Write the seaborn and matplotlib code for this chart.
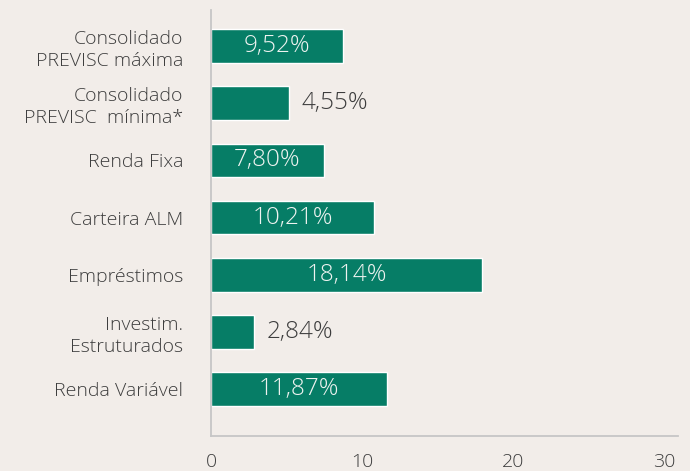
import matplotlib
matplotlib.use("Agg")
import matplotlib.pyplot as plt
import seaborn as sns
import pandas as pd

# categorias e valores
categorias = ["Consolidado\nPREVISC máxima", "Consolidado\nPREVISC  mínima*", "Renda Fixa",
              "Carteira ALM", "Empréstimos", "Investim.\nEstruturados", "Renda Variável"]
comprimentos = [8.72, 5.15, 7.48, 10.8, 17.95, 2.85, 11.66]
rotulos = ["9,52%", "4,55%", "7,80%", "10,21%", "18,14%", "2,84%", "11,87%"]
dentro = [True, False, True, True, True, False, True]
ticks_x = [0, 10, 20, 30]

fundo = "#f2ede9"
verde = "#067d66"
cinza_txt = "#3d3d3d"
cinza_linha = "#c6c6c6"

sns.set_style("white")
plt.rcParams["font.family"] = ["Open Sans", "DejaVu Sans"]
plt.rcParams["font.weight"] = "light"

df = pd.DataFrame({"categoria": categorias, "valor": comprimentos})

fig = plt.figure(figsize=(6.9, 4.71), dpi=100, facecolor=fundo)
ax = fig.add_axes([211 / 690, 1 - 436 / 471, (678 - 211) / 690, (436 - 10) / 471])
ax.set_facecolor(fundo)

sns.barplot(data=df, x="valor", y="categoria", color=verde, saturation=1,
            width=0.59, orient="h", ax=ax)

cont = ax.containers[0]
ax.bar_label(cont, labels=[r if d else "" for r, d in zip(rotulos, dentro)],
             label_type="center", color="#eef3f0", fontsize=17.5, fontweight="light")
ax.bar_label(cont, labels=["" if d else r for r, d in zip(rotulos, dentro)],
             label_type="edge", padding=9, color=cinza_txt, fontsize=17.5,
             fontweight="light")

ax.set_xlim(0, 30.9)
ax.set_ylim(6.82, -0.63)
ax.set_xticks(ticks_x)
ax.set_xlabel("")
ax.set_ylabel("")

for s in ["top", "right"]:
    ax.spines[s].set_visible(False)
for s in ["left", "bottom"]:
    ax.spines[s].set_color(cinza_linha)
    ax.spines[s].set_linewidth(1.3)

ax.tick_params(axis="x", direction="in", length=7, width=1.1, color=cinza_linha,
               labelsize=14, labelcolor=cinza_txt, pad=12)
ax.tick_params(axis="y", length=0, labelsize=14, labelcolor=cinza_txt, pad=20)
for t in ax.get_yticklabels():
    t.set_linespacing(1.3)

plt.savefig("out.png", dpi=100, facecolor=fundo)
